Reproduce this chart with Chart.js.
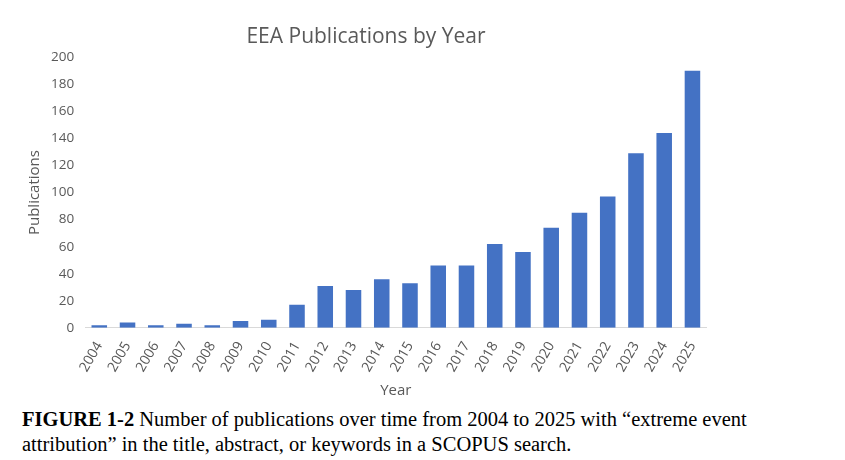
<!DOCTYPE html>
<html><head><meta charset="utf-8">
<script src="https://cdn.jsdelivr.net/npm/chart.js@4/dist/chart.umd.min.js"></script>
<style>
body{margin:0;background:#fff;width:845px;height:460px;overflow:hidden;position:relative}
#wrap{position:absolute;left:22px;top:20px;width:688px;height:384px}
#cap{position:absolute;left:22px;top:407px;font-family:"Liberation Serif",serif;font-size:20.5px;line-height:25px;color:#000;width:815px}
</style></head><body>
<div id="wrap"><canvas id="c"></canvas></div>
<div id="cap"><b>FIGURE 1-2</b> Number of publications over time from 2004 to 2025 with “extreme event attribution” in the title, abstract, or keywords in a SCOPUS search.</div>
<script>
const years=["2004","2005","2006","2007","2008","2009","2010","2011","2012","2013","2014","2015","2016","2017","2018","2019","2020","2021","2022","2023","2024","2025"];
const publications=[2,4,2,3,2,5,6,17,31,28,36,33,46,46,62,56,74,85,97,129,144,190];
new Chart(document.getElementById('c'),{type:'bar',
data:{labels:years,datasets:[{data:publications,backgroundColor:'#4472C4',categoryPercentage:1,barPercentage:0.55}]},
options:{responsive:true,maintainAspectRatio:false,animation:false,
layout:{padding:{right:0}},
plugins:{legend:{display:false},tooltip:{enabled:false},
title:{display:true,text:'EEA Publications by Year',color:'#595959',font:{family:'Open Sans',size:21,weight:'normal'},padding:{top:4,bottom:8}}},
scales:{
x:{grid:{display:false},border:{color:'#d9d9d9'},ticks:{color:'#595959',font:{family:'Open Sans',size:14},maxRotation:60,minRotation:60},
title:{display:true,text:'Year',color:'#595959',font:{family:'Open Sans',size:15}}},
y:{min:0,max:200,grid:{display:false},border:{display:false},ticks:{stepSize:20,color:'#595959',font:{family:'Open Sans',size:13.5}},
title:{display:true,text:'Publications',color:'#595959',font:{family:'Open Sans',size:15}}}}}});
</script></body></html>
